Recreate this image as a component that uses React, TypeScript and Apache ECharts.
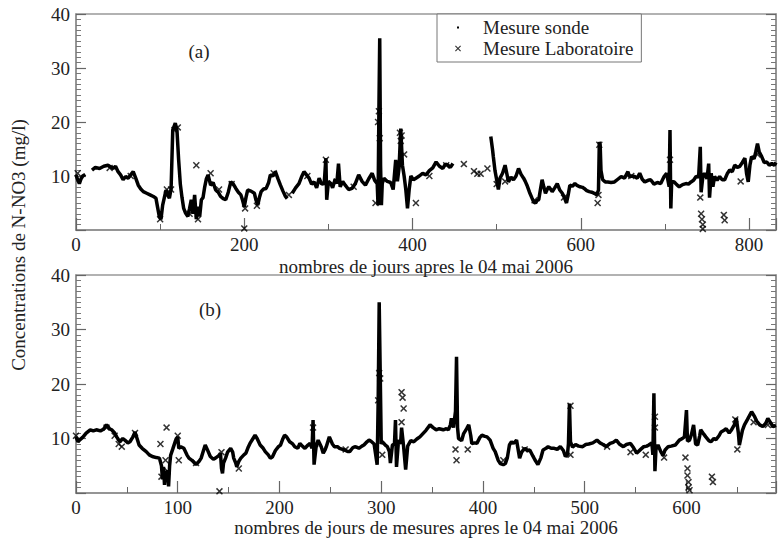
import React, { useEffect, useRef } from "react";
import * as echarts from "echarts";

// ---- Panel (a): sonde measurements (day, value); null = gap ----
const topSondeDays = [0,2,4,6,8,11,13,19,23,28,33,38,44,47,50,53,56,59,62,65,68,71,74,77,80,84,88,92,95,97,99,101,103,105,107,109,111,113,115,118,120,122,124,126,128,130,133,135,137,139,141,143,145,147,149,151,153,155,157,160,163,166,169,172,175,178,181,184,187,190,193,196,198,200,202,204,208,212,214,216,218,220,223,226,229,231,234,237,240,243,246,249,251,253,257,261,265,268,271,274,277,280,283,286,289,292,295,297,298,300,303,305,308,310,312,314,317,320,324,328,332,336,340,344,348,352,355,358,359,360,361,362,363,364,366,370,374,377,380,382,384,386,388,390,392,394,396,398,401,404,408,412,416,420,424,428,432,436,439,442,445,448,450,
493,495,496,498,500,502,504,507,510,512,514,517,520,523,526,529,532,534,536,539,542,544,546,548,550,552,554,556,558,560,562,564,566,569,572,575,578,580,583,585,587,590,593,596,599,602,604,607,610,613,616,619,621,622,623,624,626,629,632,636,640,644,648,652,656,658,660,664,667,670,673,676,680,683,687,691,695,699,702,705,706,707,708,711,714,717,721,725,728,731,734,737,740,742,743,745,747,750,752,753,755,757,759,762,765,768,771,774,777,780,783,786,789,792,795,797,799,801,803,806,808,810,812,815,818,821,824,827,830,832];
const topSondeValues = [10.2,9.3,8.6,9.5,10,10.3,null,11.1,11.6,11.4,11.8,12,11.4,11.8,10.8,10.2,9.3,9.9,9.6,10.2,10.8,9.6,8.3,7.6,7.1,6.8,6.5,6.2,5.9,4.2,2.5,2,4.6,6,7.4,6.5,5.9,7.6,18.5,19.8,18.5,13,8.5,6,4,3.2,2.5,4,5.6,3,6.5,2,4.3,2.5,5.6,6,8,9.5,10.2,8.3,8.8,7.4,7,6.2,5.8,5.6,7,8.9,8.5,7.7,7,6.5,5.5,4.3,6,7.4,7.2,6.8,5.5,4.6,6,7.1,7.6,7.7,8.8,10.2,10,10.8,9.5,8.3,7.2,6.2,5.8,null,6.8,7.8,8.6,9.8,10.8,10.2,9.6,8.5,8.9,7.8,9.6,8.5,8.6,13.3,5.6,9,8.6,7.8,9.4,8.6,12.3,8,9,8.3,7.5,7.7,8.6,10.2,9,8.3,9.5,10.5,9.2,8.6,4.6,22,35.5,12,4.6,8.6,9.6,9,8.8,7.5,13,9,11.5,18.8,12,10,7.5,4,7.5,10,9.3,9.6,10,10.5,10.2,11,11.5,12.6,11.8,11.4,12.2,12,11.6,12.3,null,
17.3,15,13.6,11,9.3,7.5,9.6,10.5,12,10.5,8.9,9.8,9.3,10,11.4,10.3,9.6,9,8.3,7,5.9,5.2,5,5.5,5.6,7.5,9.3,8,6.8,7.5,8,7.6,7.1,7.8,8.6,7.4,6.8,6.2,5,6.5,8.3,8.1,8.6,8.2,8,7.9,7.7,7.3,7.1,7,6.8,6.5,7.4,16.3,15.8,11,9.3,8.9,8.9,8.8,8.9,9.4,9.9,9.6,10.8,9.8,10,9.9,9.6,10.5,9.4,8.9,9.2,9.3,8.5,8.8,8.6,9.9,10.5,8,18.5,4,9,8.9,8.4,8,8.4,8.6,8.5,8.9,9.2,9.9,9.8,15.4,7,9.8,10.5,9.5,12.3,6,10.5,8,9.9,9.2,9.9,9.3,9.3,10.4,11.1,10.8,12,11.6,11.8,12.5,13.3,10.5,8.9,12,13.6,13.2,14.5,16,14.5,13.6,12.5,12.6,12,12.3,12,12.5];

// ---- Panel (a): laboratory measurements ----
const topLabDays = [2,40,65,100,108,113,117,121,135,143,145,160,170,185,200,201,215,235,253,275,297,310,330,356,359,360,361,385,386,387,390,404,420,440,461,473,477,481,489,500,510,545,580,620,621,622,660,706,742,743,744,745,745,770,771,790,810];
const topLabValues = [10.5,11.5,10,2,7.5,7.5,18.5,19,3,12,2,10.5,7.5,8.5,0.3,4,4.5,10.5,6.5,10,13,9,8,5,20,22,17,18,16.5,17.5,14,5,10,12,12.2,10.9,10.4,10.4,11.4,8.5,9,5.5,6,5,6.5,15.8,10,13,6,3,2,1,0.2,2.8,1.8,9,14];

// ---- Panel (b): sonde measurements ----
const botSondeDays = [0,2,4,7,10,14,17,20,24,27,30,33,35,38,40,43,46,48,51,53,56,58,60,62,65,69,72,75,79,82,84,85,86,87,88,89,90,91,92,93,95,98,100,101,103,106,109,111,114,118,121,123,125,127,129,132,135,137,140,142,143,144,145,147,149,152,154,155,157,158,160,162,165,167,169,171,174,176,178,181,184,186,189,191,193,196,199,201,203,205,207,210,213,215,218,220,223,225,228,230,232,233,234,236,238,241,243,245,246,249,252,254,257,259,262,264,267,269,272,274,276,278,281,283,286,288,290,293,296,297,298,299,300,301,304,306,308,309,311,313,314,315,317,319,320,322,324,326,329,332,335,338,341,344,348,351,354,357,361,364,366,368,369,371,373,374,375,376,379,381,384,386,388,389,392,394,397,399,402,404,407,410,412,415,417,420,422,424,426,428,430,433,435,436,438,441,444,446,449,451,454,457,459,462,464,467,470,473,476,479,481,483,484,485,486,488,491,494,498,501,504,508,512,515,518,521,525,528,531,534,538,541,545,548,551,555,558,561,563,566,567,568,569,570,572,575,577,579,582,585,589,593,596,598,600,601,603,605,607,609,611,613,614,617,619,622,624,627,629,632,634,637,639,642,644,647,649,651,652,655,657,660,664,667,669,672,675,678,680,683,685,688];
const botSondeValues = [10.3,9.4,9.8,10.3,11,11.6,11.4,11.6,11.4,11.7,12.5,11.8,11.6,11,10.3,9.4,10,9.7,9.2,9.4,10.3,11.2,10,8.8,8.2,7.6,7,6.7,6.5,6.4,5,2.5,4.8,1.5,4,2,4.2,1.2,5,6.9,8,9.7,10.3,8.2,8.5,8.2,7,6.4,6,5.2,5.8,6.4,7.6,8.8,8,6.7,6.2,6.4,6.8,7.3,4.5,3.6,5.5,6.4,7.5,8.2,7.5,6.4,5.5,4.8,5.8,6.4,7,7.3,8.3,9.1,10,10.6,10,8.8,8.2,7.6,7,6.4,6.6,7.8,8.5,8.8,9.8,10.6,10.3,9.4,9,8.5,8.2,9.1,8.5,8.2,8.8,9.1,8.2,13.4,5.2,8.5,9.7,8.5,7.3,8,8.5,10.3,9,8.5,8.5,8.2,8,7.9,7.6,7.6,8.3,8.5,8.4,8.2,8.6,8.8,9.4,9.7,9.5,9,5.2,17,35,22,9,9.4,8.8,8.5,7.6,5.5,8.8,9,13.4,4.8,9.7,9,12,8.5,4.3,8.6,9.6,9.4,9.9,10.3,10.9,11.5,12.5,12,11.6,11.8,11.6,11.8,11.6,12.5,13.7,12,15,25,12,10,9.6,10.9,11.8,12.5,10.5,9.1,9.2,9.1,10.2,10.6,10.4,10.3,9.7,8.2,7.6,6,5.4,5.2,5.4,6.5,8.8,9.4,9.1,9.7,7.5,6.4,7.5,8.2,7.8,7.9,6.8,6.1,5.2,6.5,7.9,8.2,8.5,8.2,8.2,8,8.5,7.8,6.7,7,9,16.4,9.4,8.4,8.9,8.6,8.5,8.9,9,9.2,9.7,9.2,8.9,8.5,9.1,9.3,9.7,9,8.5,8.9,9.1,8.3,7.3,8,8.5,8.6,8.8,9.2,7,18.3,4,8,8.8,7.5,6.9,7.9,8.5,8.6,8.8,9.7,10,10.3,15.2,9.5,9.7,10.8,12.5,9,8.8,10.5,11.6,10.8,10.3,9.6,9.4,10,9.8,10.5,11.2,11.5,11.8,11,11.5,12.5,13.7,11,8.8,11.5,12.5,13.5,14.9,14,13.2,12.5,12.2,12.8,13.7,12.8,12.2,12.4];

// ---- Panel (b): laboratory measurements ----
const botLabDays = [0,30,38,42,45,58,83,84,88,89,90,100,101,118,141,143,160,233,235,265,297,298,299,301,320,321,322,320,373,374,385,420,441,486,486,522,545,560,569,569,578,599,601,601,602,602,603,625,626,648,650,666,680];
const botLabValues = [10.5,12,10.5,9,8.5,11,9,3,6,12,4,10.5,6,5.5,0.3,7.5,4.5,12,9,8,17,22,21,7,18.5,17.5,15.5,13,8,6,8,6,8,16,7,8.5,7.5,7,14,12,6.5,6.5,4.5,3.2,2,1,0.5,3,2,13.5,8,13,12.5];

const xTicksTop = { max: 832, interval: 200 };
const xTicksBot = { max: 688, interval: 100 };
const yTicks = { min: 0, max: 40, interval: 10 };

const pairs = (xs: number[], ys: (number | null)[]) => xs.map((x, i) => [x, ys[i]]);

const SERIF = "Liberation Serif";
const X_SYMBOL = "path://M0,1.5L1.5,0L5,3.5L8.5,0L10,1.5L6.5,5L10,8.5L8.5,10L5,6.5L1.5,10L0,8.5L3.5,5Z";
const DOT_ICON = "path://M0,0M40,10M19,4L21,4L21,6L19,6Z";
const X_ICON = "path://M0,0M40,10M17,2.8L17.8,2L20,4.2L22.2,2L23,2.8L20.8,5L23,7.2L22.2,8L20,5.8L17.8,8L17,7.2L19.2,5Z";

export default function App() {
  const ref = useRef<HTMLDivElement>(null);
  useEffect(() => {
    if (!ref.current) return;
    const chart = echarts.init(ref.current, null, { renderer: "svg" });
    const axisColor = "#8c8c8c";
    const labelStyle = { fontFamily: SERIF, fontSize: 19, color: "#222" };
    const xAxis = (gi: number, t: { max: number; interval: number }, name: string, nameGap: number) => ({
      type: "value" as const,
      gridIndex: gi,
      min: 0,
      max: t.max,
      interval: t.interval,
      name,
      nameLocation: "middle" as const,
      nameGap,
      nameTextStyle: { fontFamily: SERIF, fontSize: 19, color: "#222" },
      axisLine: { show: true, lineStyle: { color: axisColor, width: 1.5 } },
      axisTick: { show: true, inside: true, length: 12, lineStyle: { color: "#666", width: 1.2 } },
      minorTick: { show: true, splitNumber: 2, length: 6, lineStyle: { color: "#666", width: 1 } },
      splitLine: { show: false },
      axisLabel: {
        ...labelStyle,
        margin: 5,
        formatter: (v: number) => (v % t.interval === 0 ? String(v) : ""),
      },
    });
    const yAxis = (gi: number, right: boolean) => ({
      type: "value" as const,
      gridIndex: gi,
      position: right ? ("right" as const) : ("left" as const),
      min: yTicks.min,
      max: yTicks.max,
      interval: yTicks.interval,
      axisLine: { show: true, lineStyle: { color: axisColor, width: 1.5 } },
      axisTick: { show: true, inside: true, length: 10, lineStyle: { color: "#666", width: 1.2 } },
      minorTick: { show: true, splitNumber: 10, length: 5, lineStyle: { color: "#777", width: 1 } },
      splitLine: { show: false },
      axisLabel: {
        show: !right,
        ...labelStyle,
        margin: 6,
        formatter: (v: number) => (v === 0 ? "" : String(v)),
      },
    });
    const sonde = (xi: number, xs: number[], ys: (number | null)[]) => ({
      name: "Mesure sonde",
      type: "line" as const,
      xAxisIndex: xi,
      yAxisIndex: xi * 2,
      data: pairs(xs, ys),
      showSymbol: false,
      symbol: "none",
      connectNulls: false,
      lineStyle: { color: "#000", width: 3.5 },
      itemStyle: { color: "#000" },
      z: 2,
    });
    const lab = (xi: number, xs: number[], ys: number[]) => ({
      name: "Mesure Laboratoire",
      type: "scatter" as const,
      xAxisIndex: xi,
      yAxisIndex: xi * 2,
      data: pairs(xs, ys),
      symbol: X_SYMBOL,
      symbolSize: 7,
      itemStyle: { color: "#000" },
      z: 3,
    });
    chart.setOption({
      animation: false,
      backgroundColor: "#fff",
      textStyle: { fontFamily: SERIF },
      grid: [
        { left: 76, top: 14, width: 702, height: 216, show: true, borderColor: "#999", borderWidth: 1.5, backgroundColor: "transparent" },
        { left: 76, top: 275, width: 702, height: 218, show: true, borderColor: "#999", borderWidth: 1.5, backgroundColor: "transparent" },
      ],
      xAxis: [
        xAxis(0, xTicksTop, "nombres de jours apres le 04 mai 2006", 27),
        xAxis(1, xTicksBot, "nombres de jours de mesures apres le 04 mai 2006", 24),
      ],
      yAxis: [yAxis(0, false), yAxis(0, true), yAxis(1, false), yAxis(1, true)],
      legend: {
        left: 437,
        top: 14,
        orient: "vertical",
        padding: [4, 8, 4, 1],
        itemGap: 2,
        itemWidth: 40,
        itemHeight: 10,
        borderColor: "#777",
        borderWidth: 1,
        backgroundColor: "#fff",
        textStyle: { fontFamily: SERIF, fontSize: 19, color: "#222" },
        selectedMode: false,
        data: [
          { name: "Mesure sonde", icon: DOT_ICON, itemStyle: { color: "#000" } },
          { name: "Mesure Laboratoire", icon: X_ICON, itemStyle: { color: "#000" } },
        ],
      },
      graphic: [
        { type: "text", x: 199, y: 51, style: { text: "(a)", fontFamily: SERIF, fontSize: 19, fill: "#222", align: "center", verticalAlign: "middle" } },
        { type: "text", x: 210, y: 309, style: { text: "(b)", fontFamily: SERIF, fontSize: 19, fill: "#222", align: "center", verticalAlign: "middle" } },
        {
          type: "text",
          x: 18,
          y: 245,
          rotation: Math.PI / 2,
          style: {
            text: "Concentrations de N-NO3 (mg/l)",
            fontFamily: SERIF,
            fontSize: 19,
            fill: "#222",
            align: "center",
            verticalAlign: "middle",
          },
        },
      ],
      series: [
        sonde(0, topSondeDays, topSondeValues),
        lab(0, topLabDays, topLabValues),
        sonde(1, botSondeDays, botSondeValues),
        lab(1, botLabDays, botLabValues),
      ],
    });
    return () => chart.dispose();
  }, []);
  return (
    <div
      ref={ref}
      style={{ position: "fixed", left: 0, top: 0, width: 779, height: 539, background: "#fff" }}
    />
  );
}
